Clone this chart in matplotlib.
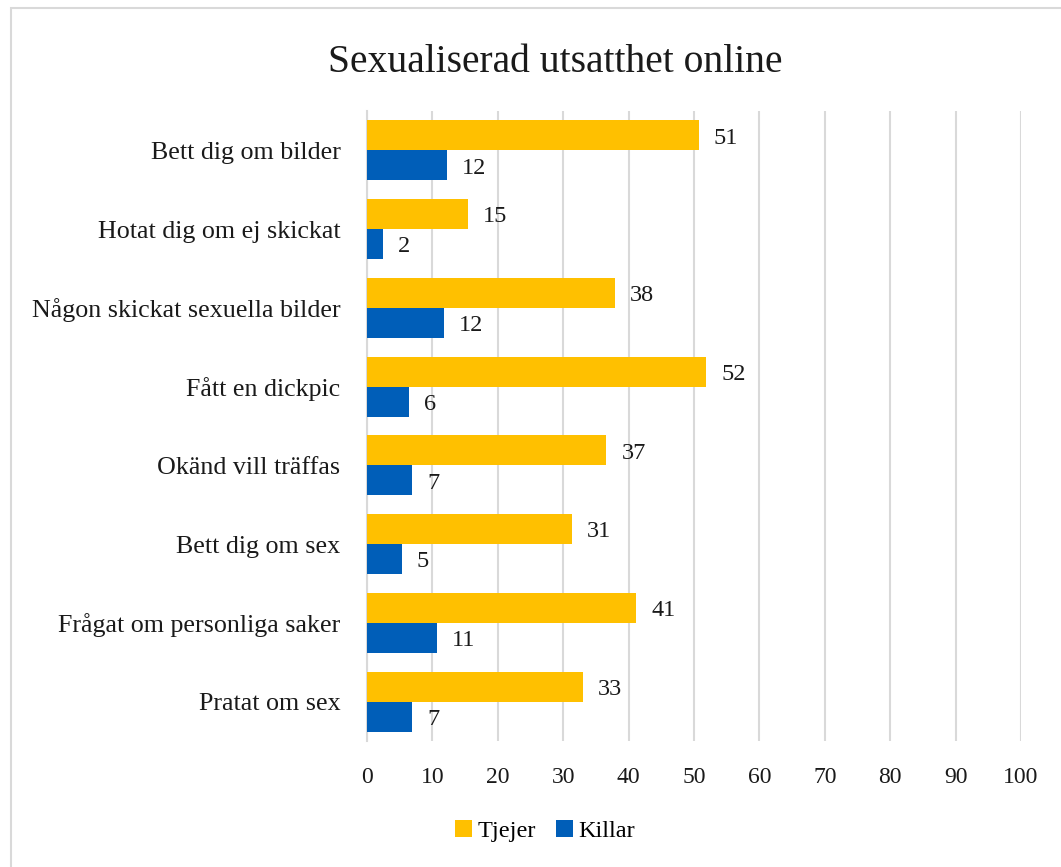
import matplotlib
matplotlib.use('Agg')
import matplotlib.pyplot as plt
from matplotlib.patches import Rectangle, Patch
import numpy as np

# Data
categories = [
    "Bett dig om bilder",
    "Hotat dig om ej skickat",
    "Någon skickat sexuella bilder",
    "Fått en dickpic",
    "Okänd vill träffas",
    "Bett dig om sex",
    "Frågat om personliga saker",
    "Pratat om sex",
]
tjejer = [50.7, 15.4, 37.9, 51.9, 36.6, 31.3, 41.1, 33.0]
killar = [12.2, 2.4, 11.7, 6.4, 6.9, 5.3, 10.7, 6.9]
x_ticks = [0, 10, 20, 30, 40, 50, 60, 70, 80, 90, 100]

YELLOW = '#FFC000'
BLUE = '#005EB8'
GRID = '#D9D9D9'
TEXT = '#1a1a1a'

plt.rcParams['font.family'] = ['Liberation Serif', 'DejaVu Serif']

W, H = 1061, 867
fig = plt.figure(figsize=(W / 100, H / 100), dpi=100)

# outer chart border (cropped at right and bottom in the reference)
fig.patches.append(Rectangle((10.5 / W, -0.05), 1.2, 1 - 7.5 / H + 0.05,
                             transform=fig.transFigure, fill=False,
                             edgecolor=GRID, linewidth=1.5))

ax = fig.add_axes([367 / W, 1 - 741 / H, 654 / W, 630 / H])

y = np.arange(len(categories))
h = 0.38
ax.barh(y - h / 2, tjejer, height=h, color=YELLOW, label='Tjejer', zorder=3)
ax.barh(y + h / 2, killar, height=h, color=BLUE, label='Killar', zorder=3)

for yi, v in zip(y - h / 2, tjejer):
    ax.annotate(f"{round(v)}", (v, yi), xytext=(11, -2), textcoords='offset points',
                va='center', ha='left', fontsize=17.5, color=TEXT)
for yi, v in zip(y + h / 2, killar):
    ax.annotate(f"{round(v)}", (v, yi), xytext=(11, -2), textcoords='offset points',
                va='center', ha='left', fontsize=17.5, color=TEXT)

ax.set_xlim(0, 100)
ax.set_ylim(len(categories) - 0.5, -0.5)
ax.set_xticks(x_ticks)
ax.set_xticklabels([str(t) for t in x_ticks])
ax.set_yticks(y)
ax.set_yticklabels(categories)
ax.tick_params(axis='both', length=0, labelcolor=TEXT)
ax.tick_params(axis='x', labelsize=17, pad=19)
ax.tick_params(axis='y', labelsize=18.7, pad=19)

ax.grid(axis='x', color=GRID, linewidth=1.5, zorder=0)
ax.set_axisbelow(True)
for s in ['top', 'right', 'bottom']:
    ax.spines[s].set_visible(False)
ax.spines['left'].set_color(GRID)
ax.spines['left'].set_linewidth(1.5)

fig.text(555 / W, 1 - 62 / H, "Sexualiserad utsatthet online",
         ha='center', va='center', fontsize=28.5, color=TEXT)

handles = [Patch(facecolor=YELLOW, label='Tjejer'), Patch(facecolor=BLUE, label='Killar')]
fig.legend(handles=handles, loc='center', bbox_to_anchor=(545 / W, 1 - 831 / H),
           ncol=2, frameon=False, fontsize=17.5, handlelength=0.7, handleheight=0.7,
           handletextpad=0.25, columnspacing=0.8)

fig.savefig('out.png', dpi=100, facecolor='white')
